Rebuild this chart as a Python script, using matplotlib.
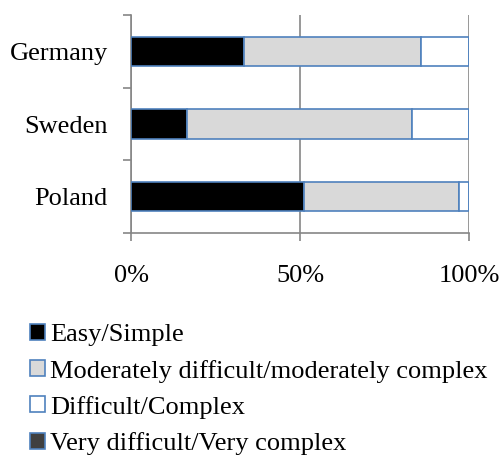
"""
Perceived difficulty by country, stacked horizontal bars
"""
import numpy as np
import matplotlib
matplotlib.use("Agg")
from matplotlib import pyplot as plt
from matplotlib.patches import Patch

countries = ["Poland", "Sweden", "Germany"]
easy = [51.3, 16.5, 33.3]
moderate = [45.8, 66.7, 52.4]
difficult = [2.9, 16.8, 14.3]
very_difficult = [0.0, 0.0, 0.0]

series_names = [
    "Easy/Simple",
    "Moderately difficult/moderately complex",
    "Difficult/Complex",
    "Very difficult/Very complex",
]
series_colors = ["#000000", "#d9d9d9", "#ffffff", "#404040"]
edge = "#4f81bd"
axis_gray = "#868686"

plt.rcParams["font.family"] = ["Liberation Serif", "DejaVu Serif"]

fig = plt.figure(figsize=(5.01, 4.61), dpi=100)
ax = fig.add_axes([0.262, 0.494, 0.674, 0.474])

y = np.arange(len(countries))
left = np.zeros(len(countries))
for vals, color in zip([easy, moderate, difficult, very_difficult], series_colors):
    vals = np.array(vals)
    ax.barh(y, vals, left=left, height=0.4, color=color,
            edgecolor=edge, linewidth=1.2, zorder=3)
    left += vals

ax.set_xlim(0, 100)
ax.set_ylim(-0.5, 2.5)
ax.set_xticks([0, 50, 100])
ax.set_xticklabels(["0%", "50%", "100%"], fontsize=19)
ax.tick_params(axis="x", direction="out", length=6, width=1.2,
               color=axis_gray, pad=17)

ax.set_yticks([-0.5, 0.5, 1.5, 2.5])
ax.set_yticklabels([])
ax.set_yticks(y, minor=True)
ax.set_yticklabels(countries, minor=True, fontsize=19)
ax.tick_params(axis="y", which="major", direction="out", length=6,
               width=1.2, color=axis_gray)
ax.tick_params(axis="y", which="minor", length=0, pad=17)

ax.grid(axis="x", color=axis_gray, linewidth=1.2, zorder=0)
for side in ["top", "right"]:
    ax.spines[side].set_visible(False)
for side in ["left", "bottom"]:
    ax.spines[side].set_color(axis_gray)
    ax.spines[side].set_linewidth(1.2)

handles = [Patch(facecolor=c, edgecolor=edge, linewidth=1.2) for c in series_colors]
fig.legend(handles, series_names, loc="upper left",
           bbox_to_anchor=(0.06, 0.297), frameon=False, fontsize=19,
           handlelength=0.55, handleheight=0.55, handletextpad=0.2,
           labelspacing=0.5, borderaxespad=0, borderpad=0)

fig.savefig("out.png", dpi=100)
